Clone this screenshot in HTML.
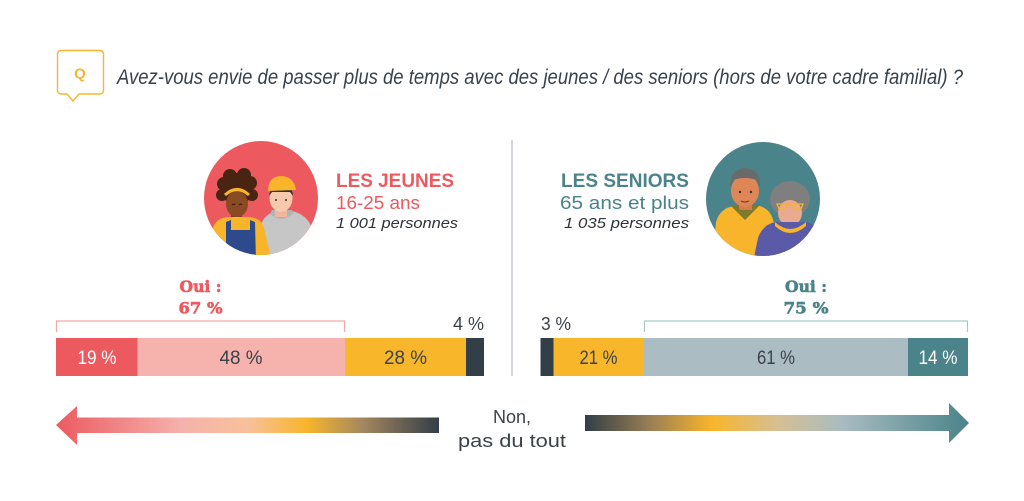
<!DOCTYPE html>
<html>
<head>
<meta charset="utf-8">
<style>
  html,body{margin:0;padding:0;background:#fff;}
  body{width:1024px;height:501px;overflow:hidden;}
  svg{display:block;}
</style>
</head>
<body>
<svg width="1024" height="501" viewBox="0 0 1024 501" xmlns="http://www.w3.org/2000/svg">
  <defs>
    <linearGradient id="gl" x1="56" y1="0" x2="439" y2="0" gradientUnits="userSpaceOnUse">
      <stop offset="0" stop-color="#ec5a60"/>
      <stop offset="0.33" stop-color="#f5b2ac"/>
      <stop offset="0.5" stop-color="#f7c199"/>
      <stop offset="0.655" stop-color="#f8b52a"/>
      <stop offset="0.8" stop-color="#a4875e"/>
      <stop offset="1" stop-color="#323e48"/>
    </linearGradient>
    <linearGradient id="gr" x1="585" y1="0" x2="969" y2="0" gradientUnits="userSpaceOnUse">
      <stop offset="0" stop-color="#323e48"/>
      <stop offset="0.17" stop-color="#9a7f55"/>
      <stop offset="0.33" stop-color="#f8b52a"/>
      <stop offset="0.5" stop-color="#d7bf91"/>
      <stop offset="0.67" stop-color="#a9bcc1"/>
      <stop offset="1" stop-color="#4a838a"/>
    </linearGradient>
    <clipPath id="cl"><circle cx="261" cy="198" r="57"/></clipPath>
    <clipPath id="cr"><circle cx="763" cy="199" r="57"/></clipPath>
  </defs>

  <!-- Question icon -->
  <path d="M61.5 50.5 H99.5 Q103.5 50.5 103.5 54.5 V90 Q103.5 94 99.5 94 H79 L73 101 L67 94 H61.5 Q57.5 94 57.5 90 V54.5 Q57.5 50.5 61.5 50.5 Z" fill="#fff" stroke="#f7b733" stroke-width="1.4"/>
  <text x="80" y="78.5" text-anchor="middle" style="font-family:'Liberation Sans',sans-serif" font-size="15" font-weight="bold" fill="#f7b733">Q</text>

  <!-- Title -->
  <text x="117" y="84" style="font-family:'Liberation Sans',sans-serif" font-size="21" font-style="italic" fill="#37424c" textLength="846" lengthAdjust="spacingAndGlyphs">Avez-vous envie de passer plus de temps avec des jeunes / des seniors (hors de votre cadre familial) ?</text>

  <!-- Divider -->
  <line x1="512" y1="140" x2="512" y2="376" stroke="#c8ccd0" stroke-width="1.5"/>

  <!-- Left illustration -->
  <circle cx="261" cy="198" r="57" fill="#ec5a60"/>
  <g clip-path="url(#cl)">
    <path d="M258 260 L262 222 Q268 210 286 210 Q306 212 312 228 L318 260 Z" fill="#c6c6c6"/>
    <path d="M270 214 Q281 224 294 213 L292 210 L272 210 Z" fill="#b3b3b3"/>
    <rect x="275" y="204" width="12" height="13" fill="#efb79b"/>
    <ellipse cx="281" cy="198" rx="11.5" ry="14" fill="#f6c9ad"/>
    <path d="M269 196 Q270 186 281 186 Q293 186 293 196 L290 192 L272 192 Z" fill="#2e3338"/>
    <path d="M268 191 Q268 176 282 176 Q294 177 296 190 Z" fill="#f8b52a"/>
    <circle cx="276" cy="200" r="1" fill="#2e3338"/>
    <circle cx="286" cy="200" r="1" fill="#2e3338"/>
    <circle cx="237" cy="189" r="16" fill="#4a2412"/>
    <circle cx="224" cy="184" r="7" fill="#4a2412"/>
    <circle cx="250" cy="183" r="7" fill="#4a2412"/>
    <circle cx="230" cy="176" r="7" fill="#4a2412"/>
    <circle cx="244" cy="175" r="7" fill="#4a2412"/>
    <circle cx="222" cy="195" r="6" fill="#4a2412"/>
    <circle cx="252" cy="195" r="6" fill="#4a2412"/>
    <rect x="231" y="210" width="11" height="10" fill="#7a3e1e"/>
    <ellipse cx="237" cy="204" rx="11" ry="13" fill="#8a4a24"/>
    <path d="M225 195 Q237 184 249 195" fill="none" stroke="#f8b52a" stroke-width="3"/>
    <path d="M232 205 Q234 203 235 205 M239 205 Q241 203 242 205" stroke="#2e1a10" stroke-width="1" fill="none"/>
    <path d="M211 262 L213 228 Q216 218 228 217 L248 217 Q262 218 264 228 L272 262 Z" fill="#f8b52a"/>
    <path d="M226 262 L226 222 L231 220 L231 230 L250 230 L250 220 L255 222 L256 262 Z" fill="#2c4a8c"/>
  </g>

  <!-- Left labels -->
  <text x="336" y="187" style="font-family:'Liberation Sans',sans-serif" font-size="19" font-weight="bold" fill="#ec5a60" textLength="118" lengthAdjust="spacingAndGlyphs">LES JEUNES</text>
  <text x="336" y="209" style="font-family:'Liberation Sans',sans-serif" font-size="18" fill="#ec5a60" textLength="84" lengthAdjust="spacingAndGlyphs">16-25 ans</text>
  <text x="336" y="228" style="font-family:'Liberation Sans',sans-serif" font-size="15" font-style="italic" fill="#2e3338" textLength="122" lengthAdjust="spacingAndGlyphs">1 001 personnes</text>

  <!-- Right illustration -->
  <circle cx="763" cy="199" r="57" fill="#4a838a"/>
  <g clip-path="url(#cr)">
    <path d="M712 262 L716 222 Q720 208 734 206 L760 206 Q772 210 774 224 L772 262 Z" fill="#f8b42a"/>
    <path d="M730 205 L745 220 L760 205 Z" fill="#7c7a2c"/>
    <rect x="739" y="200" width="13" height="10" fill="#d77a4c"/>
    <ellipse cx="745" cy="191" rx="14" ry="16" fill="#df8656"/>
    <path d="M730 188 Q729 170 745 168 Q761 169 760 188 L757 180 Q745 176 733 180 Z" fill="#6a6a6a"/>
    <circle cx="740" cy="192" r="1.2" fill="#2e3338"/>
    <circle cx="751" cy="192" r="1.2" fill="#2e3338"/>
    <path d="M741 201 Q745 203 749 201" stroke="#6a3a20" stroke-width="1" fill="none"/>
    <ellipse cx="790" cy="199" rx="20" ry="18" fill="#7f7f7f"/>
    <ellipse cx="790" cy="213" rx="12" ry="13" fill="#e9aa90"/>
    <path d="M753 262 L758 238 Q763 224 776 222 L806 222 Q820 226 822 240 L822 262 Z" fill="#5b5aa6"/>
    <path d="M775 222 Q790 236 806 222 L806 226 Q790 240 775 226 Z" fill="#f8b42a"/>
    <path d="M777 204 L787 204 L785 209 L779 209 Z M793 204 L803 204 L801 209 L795 209 Z M787 205 L793 205" fill="none" stroke="#f8b42a" stroke-width="1.3"/>
  </g>

  <!-- Right labels -->
  <text x="689" y="187" text-anchor="end" style="font-family:'Liberation Sans',sans-serif" font-size="19" font-weight="bold" fill="#4a838a" textLength="128" lengthAdjust="spacingAndGlyphs">LES SENIORS</text>
  <text x="689" y="209" text-anchor="end" style="font-family:'Liberation Sans',sans-serif" font-size="18" fill="#4a838a" textLength="129" lengthAdjust="spacingAndGlyphs">65 ans et plus</text>
  <text x="689" y="228" text-anchor="end" style="font-family:'Liberation Sans',sans-serif" font-size="15" font-style="italic" fill="#2e3338" textLength="125" lengthAdjust="spacingAndGlyphs">1 035 personnes</text>

  <!-- Oui labels -->
  <g style="font-family:'DejaVu Serif','Liberation Serif',serif" font-weight="bold" font-size="16" text-anchor="middle">
    <text x="200.5" y="292" fill="#ec5a60" stroke="#ec5a60" stroke-width="0.6" textLength="42" lengthAdjust="spacingAndGlyphs">Oui :</text>
    <text x="200.5" y="313.5" fill="#ec5a60" stroke="#ec5a60" stroke-width="0.6" textLength="44" lengthAdjust="spacingAndGlyphs">67 %</text>
    <text x="806" y="292" fill="#4a838a" stroke="#4a838a" stroke-width="0.6" textLength="42" lengthAdjust="spacingAndGlyphs">Oui :</text>
    <text x="806" y="313.5" fill="#4a838a" stroke="#4a838a" stroke-width="0.6" textLength="45" lengthAdjust="spacingAndGlyphs">75 %</text>
  </g>

  <!-- Brackets -->
  <path d="M56.5 332 V321 H344.5 V332" fill="none" stroke="#f4a9a7" stroke-width="1.2"/>
  <path d="M644.5 332 V321 H967.5 V332" fill="none" stroke="#a9c6c9" stroke-width="1.2"/>

  <!-- Left bar -->
  <rect x="56" y="338" width="81.5" height="38" fill="#ec5a60"/>
  <rect x="137.5" y="338" width="207.5" height="38" fill="#f6b3ad"/>
  <rect x="345" y="338" width="121" height="38" fill="#f8b62a"/>
  <rect x="466" y="338" width="18" height="38" fill="#323e48"/>

  <!-- Right bar -->
  <rect x="540.5" y="338" width="13" height="38" fill="#323e48"/>
  <rect x="553.5" y="338" width="90.5" height="38" fill="#f8b62a"/>
  <rect x="644" y="338" width="264" height="38" fill="#abbdc2"/>
  <rect x="908" y="338" width="60" height="38" fill="#4a838a"/>

  <!-- Bar labels -->
  <g style="font-family:'Liberation Sans',sans-serif" font-size="19" text-anchor="middle">
    <text x="97" y="364" fill="#fff" textLength="39" lengthAdjust="spacingAndGlyphs">19 %</text>
    <text x="241" y="364" fill="#3a424b" textLength="43" lengthAdjust="spacingAndGlyphs">48 %</text>
    <text x="405.5" y="364" fill="#3a424b" textLength="43" lengthAdjust="spacingAndGlyphs">28 %</text>
    <text x="598.5" y="364" fill="#3a424b" textLength="38" lengthAdjust="spacingAndGlyphs">21 %</text>
    <text x="776" y="364" fill="#3a424b" textLength="38" lengthAdjust="spacingAndGlyphs">61 %</text>
    <text x="938" y="364" fill="#fff" textLength="39" lengthAdjust="spacingAndGlyphs">14 %</text>
  </g>
  <text x="484" y="330" text-anchor="end" style="font-family:'Liberation Sans',sans-serif" font-size="18" fill="#3a424b" textLength="31" lengthAdjust="spacingAndGlyphs">4 %</text>
  <text x="541" y="330" style="font-family:'Liberation Sans',sans-serif" font-size="18" fill="#3a424b" textLength="30" lengthAdjust="spacingAndGlyphs">3 %</text>

  <!-- Bottom arrows -->
  <path d="M56 425 L77 406 L77 417.5 L439 417.5 L439 433 L77 433 L77 445 Z" fill="url(#gl)"/>
  <path d="M585 415 L949 415 L949 403 L969 423 L949 443 L949 431 L585 431 Z" fill="url(#gr)"/>
  <text x="512" y="423" text-anchor="middle" style="font-family:'Liberation Sans',sans-serif" font-size="18" fill="#3a424b">Non,</text>
  <text x="512" y="447" text-anchor="middle" style="font-family:'Liberation Sans',sans-serif" font-size="18" fill="#3a424b" textLength="108" lengthAdjust="spacingAndGlyphs">pas du tout</text>
</svg>
</body>
</html>
